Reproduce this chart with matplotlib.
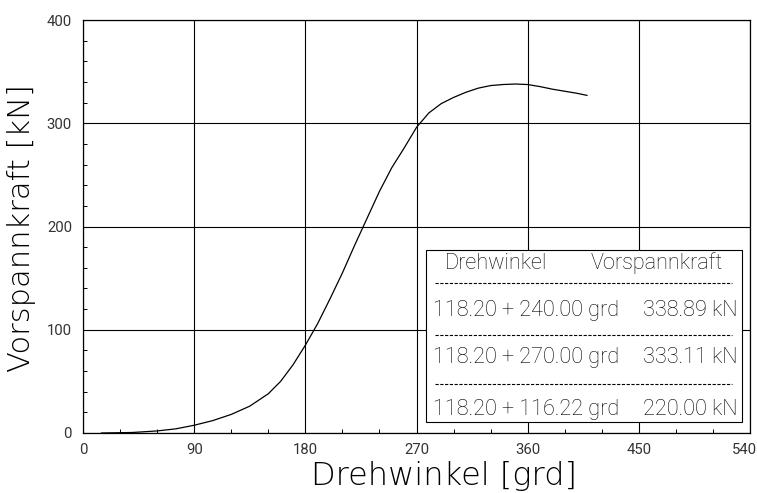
import matplotlib
matplotlib.use("Agg")
import matplotlib.pyplot as plt
from matplotlib.ticker import MultipleLocator
from matplotlib.patches import Rectangle
from matplotlib.transforms import ScaledTranslation

# Data
drehwinkel = [15, 40, 60, 75, 90, 105, 120, 135, 150, 160, 170, 180, 190, 200,
              210, 220, 230, 240, 250, 260, 270, 280, 290, 300, 310, 320, 330,
              340, 350, 360, 370, 380, 390, 400, 408]
vorspannkraft = [0, 0.5, 2, 4, 7.5, 12, 18, 26, 38, 50, 66, 85, 106, 130,
                 155, 182, 208, 234, 257, 276, 296, 310, 319, 325, 330, 334, 336.5,
                 337.5, 338, 337.5, 335.5, 333, 331, 329, 327]

x_ticks = [0, 90, 180, 270, 360, 450, 540]
y_ticks = [0, 100, 200, 300, 400]

table_header = ["Drehwinkel", "Vorspannkraft"]
table_base = ["118.20", "118.20", "118.20"]
table_angle = ["240.00", "270.00", "116.22"]
table_force = ["338.89", "333.11", "220.00"]

FONT = ["Roboto", "DejaVu Sans"]
LABEL_FONT = ["DejaVu Sans"]
plt.rcParams['font.family'] = FONT

fig = plt.figure(figsize=(7.57, 4.93), dpi=100)
ax = fig.add_axes([83/757, 60/493, 667/757, 413/493])

ax.plot(drehwinkel, vorspannkraft, color='black', lw=0.9)

ax.set_xlim(0, 540)
ax.set_ylim(0, 400)
ax.set_xticks(x_ticks)
ax.set_yticks(y_ticks)
ax.xaxis.set_minor_locator(MultipleLocator(30))
ax.yaxis.set_minor_locator(MultipleLocator(20))
ax.tick_params(which='both', direction='in', top=False, right=False,
               labelsize=10.7, width=0.7, colors='black')
ax.tick_params(which='major', length=0)
ax.tick_params(which='minor', length=3)
ax.tick_params(axis='y', pad=8)
ax.tick_params(axis='x', pad=7)
for lab in ax.get_xticklabels() + ax.get_yticklabels():
    lab.set_color('#333333')
last = ax.get_xticklabels()[-1]
last.set_transform(last.get_transform() + ScaledTranslation(-6/100, 0, fig.dpi_scale_trans))

ax.grid(True, which='major', color='black', lw=0.8)
for s in ax.spines.values():
    s.set_linewidth(0.9)

ax.set_xlabel("Drehwinkel [grd]", fontsize=23, fontweight='light',
              family=LABEL_FONT)
ax.xaxis.set_label_coords(0.541, -0.069)
ax.set_ylabel("Vorspannkraft [kN]", fontsize=22, fontweight='light',
              family=LABEL_FONT)
ax.yaxis.set_label_coords(-0.071, 0.496)

# Table box
x0, x1 = 0.514, 0.9876
y0, y1 = 0.027, 0.443
ax.add_patch(Rectangle((x0, y0), x1 - x0, y1 - y0, transform=ax.transAxes,
                       facecolor='white', edgecolor='black', lw=0.8, zorder=5))
fs = 15.6
ax.text(0.543, 0.4116, table_header[0], transform=ax.transAxes, fontsize=fs,
        fontweight='light', ha='left', va='center', zorder=6)
ax.text(0.9595, 0.4116, table_header[1], transform=ax.transAxes, fontsize=fs,
        fontweight='light', ha='right', va='center', zorder=6)
row_y = [0.2978, 0.1816, 0.0557]
for yy, b, a, f in zip(row_y, table_base, table_angle, table_force):
    ax.text(0.525, yy, f"{b} + {a} grd", transform=ax.transAxes, fontsize=fs,
            fontweight='light', ha='left', va='center', zorder=6)
    ax.text(0.982, yy, f"{f} kN", transform=ax.transAxes, fontsize=fs,
            fontweight='light', ha='right', va='center', zorder=6)
for yy in [0.3625, 0.2373, 0.1186]:
    ax.plot([0.528, 0.9725], [yy, yy], transform=ax.transAxes, color='black',
            lw=0.8, linestyle=(0, (2.9, 1.4)), zorder=6)

fig.savefig("out.png", dpi=100)
